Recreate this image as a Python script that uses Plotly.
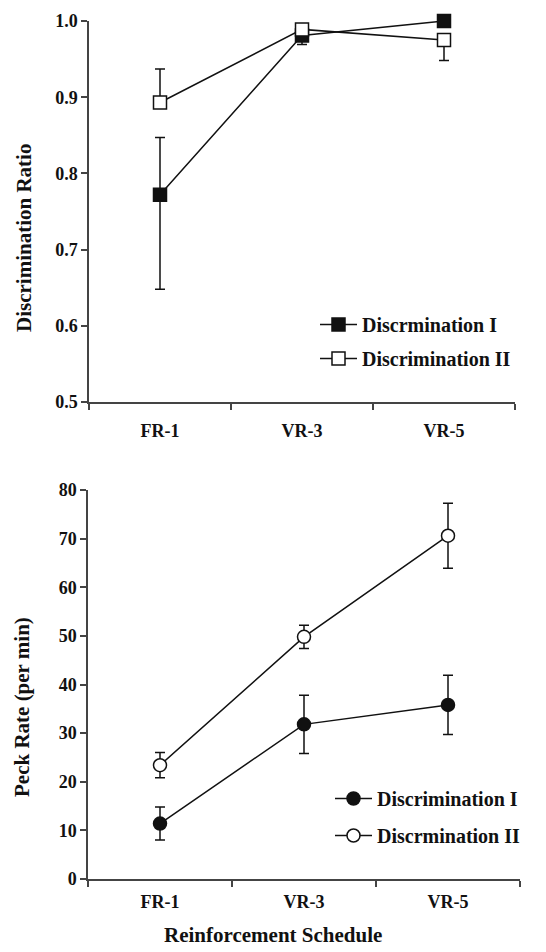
import plotly.graph_objects as go

categories = ["FR-1", "VR-3", "VR-5"]

# Top panel: discrimination ratio
ratio_d1 = [0.772, 0.981, 1.000]
ratio_d1_err_plus = [0.075, 0.0, 0.0]
ratio_d1_err_minus = [0.124, 0.012, 0.0]
ratio_d2 = [0.893, 0.989, 0.975]
ratio_d2_err_plus = [0.044, 0.0, 0.0]
ratio_d2_err_minus = [0.0, 0.0, 0.027]
ratio_names = ["Discrmination I", "Discrimination II"]
ratio_ticks = [0.5, 0.6, 0.7, 0.8, 0.9, 1.0]

# Bottom panel: peck rate
peck_d1 = [11.4, 31.8, 35.8]
peck_d1_err = [3.4, 6.0, 6.1]
peck_d2 = [23.4, 49.8, 70.6]
peck_d2_err = [2.6, 2.4, 6.7]
peck_names = ["Discrimination I", "Discrmination II"]
peck_ticks = [0, 10, 20, 30, 40, 50, 60, 70, 80]

W, H = 546, 952
OFF = 8  # page body margin in the browser
FONT = "Liberation Serif"
INK = "#111111"

def px(v):
    return (v - OFF) / W

def py(v):
    return 1 - (v - OFF) / H

fig = go.Figure()

def add(x, y, eplus, eminus, name, symbol, fill, xa, ya, legend, group):
    fig.add_trace(go.Scatter(
        x=x, y=y, name=name, mode="lines+markers",
        xaxis=xa, yaxis=ya, legend=legend, legendgroup=group,
        line=dict(color=INK, width=1.5),
        marker=dict(symbol=symbol, size=13, color=fill, line=dict(color=INK, width=1.5)),
        error_y=dict(type="data", symmetric=False, array=eplus, arrayminus=eminus,
                     visible=True, color=INK, thickness=1.5, width=5),
        cliponaxis=False,
    ))

add(categories, ratio_d1, ratio_d1_err_plus, ratio_d1_err_minus, ratio_names[0],
    "square", INK, "x", "y", "legend", "a1")
add(categories, ratio_d2, ratio_d2_err_plus, ratio_d2_err_minus, ratio_names[1],
    "square", "white", "x", "y", "legend", "a2")
add(categories, peck_d1, peck_d1_err, peck_d1_err, peck_names[0],
    "circle", INK, "x2", "y2", "legend2", "b1")
add(categories, peck_d2, peck_d2_err, peck_d2_err, peck_names[1],
    "circle", "white", "x2", "y2", "legend2", "b2")

tickfont = dict(family=FONT, size=18, color=INK, weight="bold")
axcommon = dict(showgrid=False, zeroline=False, showline=True, linecolor="#444",
                linewidth=1.5, ticks="outside", ticklen=6, tickwidth=1.5,
                tickcolor="#444", tickfont=tickfont, automargin=False)

titlefont = dict(family=FONT, size=21, color=INK, weight="bold")
legfont = dict(family=FONT, size=20, color=INK, weight="bold")

fig.update_layout(
    width=W, height=H,
    margin=dict(l=0, r=0, t=0, b=0),
    paper_bgcolor="white", plot_bgcolor="white",
    showlegend=True,
    xaxis=dict(domain=[px(89), px(515)], anchor="y", type="category",
               range=[-0.5, 2.5], tickson="boundaries", ticklabelstandoff=12, **axcommon),
    yaxis=dict(domain=[py(402), py(21)], anchor="x", range=[0.5, 1.0],
               tickvals=ratio_ticks, tickformat=".1f", **axcommon),
    xaxis2=dict(domain=[px(88), px(520)], anchor="y2", type="category",
                range=[-0.5, 2.5], tickson="boundaries", ticklabelstandoff=6, **axcommon),
    yaxis2=dict(domain=[py(879), py(490)], anchor="x2", range=[0, 80],
                tickvals=peck_ticks, **axcommon),
    legend=dict(x=px(315), y=py(305), xanchor="left", yanchor="top",
                bgcolor="rgba(0,0,0,0)", traceorder="grouped", tracegroupgap=5,
                itemwidth=37, font=legfont),
    legend2=dict(x=px(330), y=py(779), xanchor="left", yanchor="top",
                 bgcolor="rgba(0,0,0,0)", traceorder="grouped", tracegroupgap=8,
                 itemwidth=37, font=legfont),
    annotations=[
        dict(text="Discrimination Ratio", textangle=-90, x=px(24), y=py(238),
             xanchor="center", yanchor="middle",
             xref="paper", yref="paper", showarrow=False, font=titlefont),
        dict(text="Peck Rate (per min)", textangle=-90, x=px(22), y=py(707),
             xanchor="center", yanchor="middle",
             xref="paper", yref="paper", showarrow=False, font=titlefont),
        dict(text="Reinforcement Schedule", x=px(273), y=py(935),
             xanchor="center", yanchor="middle",
             xref="paper", yref="paper", showarrow=False, font=titlefont),
    ],
)

fig.write_html("out.html")
